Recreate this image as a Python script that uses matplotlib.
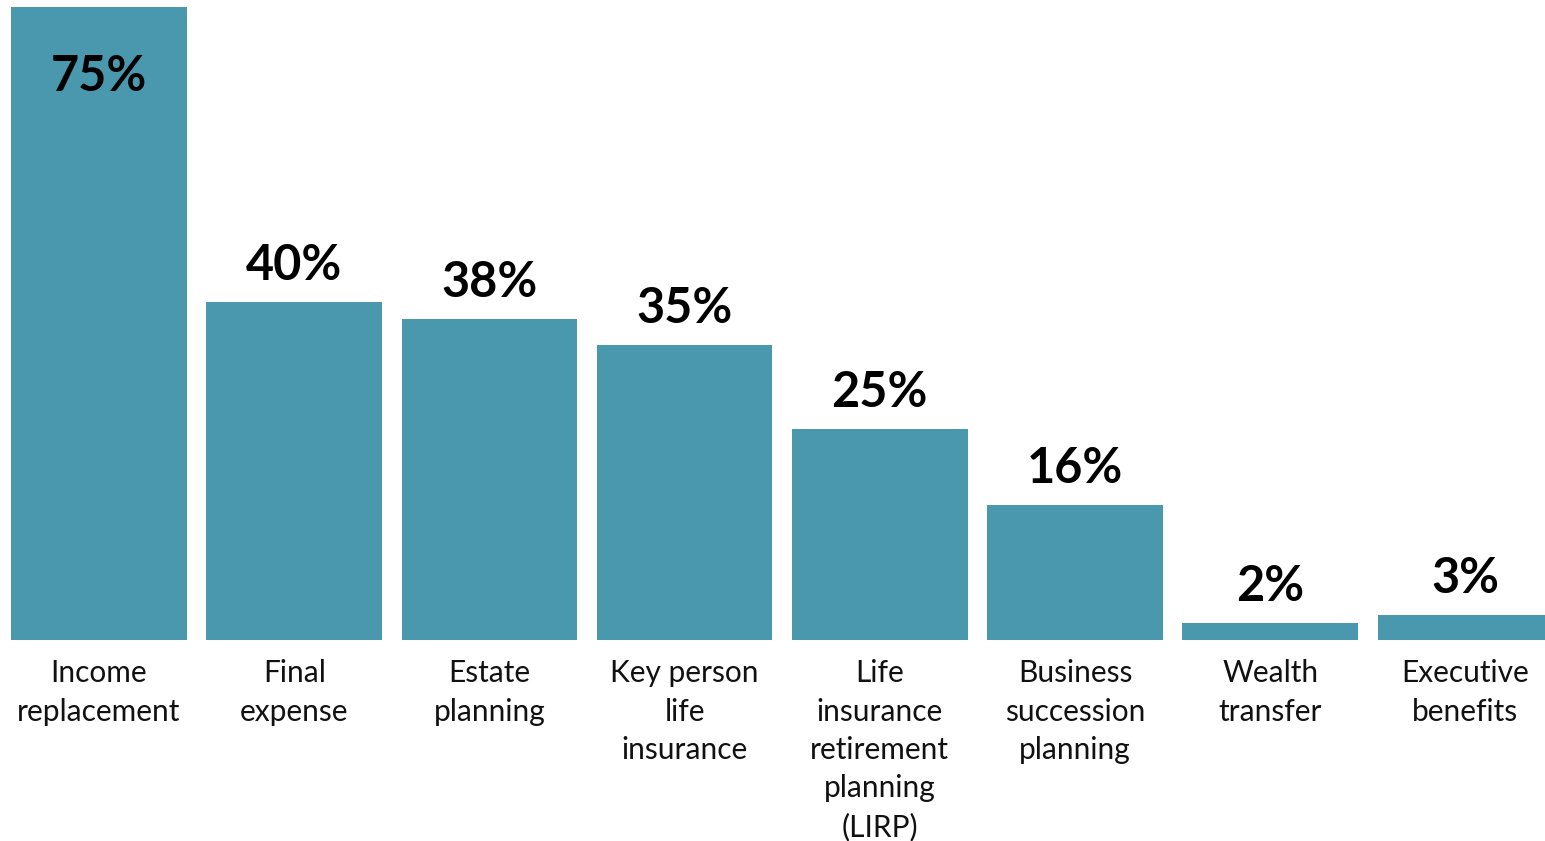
import matplotlib
matplotlib.use("Agg")
import matplotlib.pyplot as plt

categories = [
    "Income\nreplacement",
    "Final\nexpense",
    "Estate\nplanning",
    "Key person\nlife\ninsurance",
    "Life\ninsurance\nretirement\nplanning\n(LIRP)",
    "Business\nsuccession\nplanning",
    "Wealth\ntransfer",
    "Executive\nbenefits",
]
values = [75, 40, 38, 35, 25, 16, 2, 3]
value_labels = ["75%", "40%", "38%", "35%", "25%", "16%", "2%", "3%"]

BAR_COLOR = "#4A98AE"
W, H, DPI = 1545, 841, 100

plt.rcParams["font.family"] = ["Lato", "DejaVu Sans"]

fig = plt.figure(figsize=(W / DPI, H / DPI), dpi=DPI)
# plot area spans the full width; bars sit between y=7px and y=640px
ax = fig.add_axes([0, 1 - 640 / H, 1, (640 - 7) / H])

x = list(range(len(categories)))
ax.bar(x, values, width=0.9, color=BAR_COLOR, linewidth=0)

step = 195.2
ax.set_xlim((0 - 99) / step, (W - 99) / step)
ax.set_ylim(0, 75)

for xi, v, lab in zip(x, values, value_labels):
    if v == max(values):
        ax.annotate(lab, (xi, v), xytext=(0, -70), textcoords="offset pixels",
                    ha="center", va="center", fontsize=35, fontweight="bold",
                    color="black", annotation_clip=False)
    else:
        ax.annotate(lab, (xi, v), xytext=(0, 22), textcoords="offset pixels",
                    ha="center", va="baseline", fontsize=35, fontweight="bold",
                    color="black", annotation_clip=False)

ax.set_xticks(x)
ax.set_xticklabels(categories, fontsize=21.5, linespacing=1.45, color="#111111")
ax.tick_params(axis="x", length=0, pad=14)
ax.set_yticks([])
for s in ax.spines.values():
    s.set_visible(False)

fig.savefig("out.png", dpi=DPI)
